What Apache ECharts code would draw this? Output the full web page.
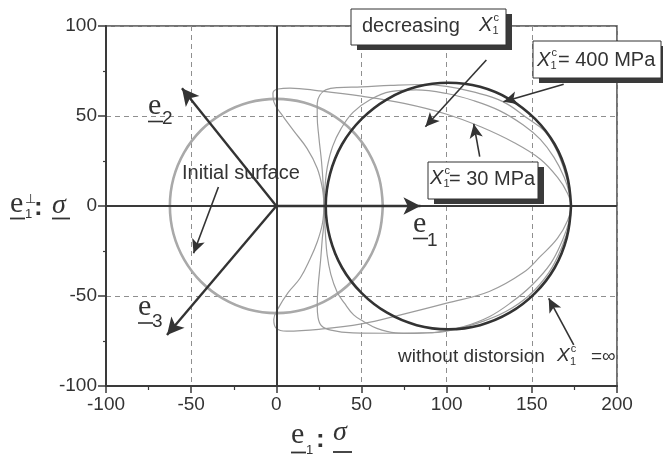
<!DOCTYPE html>
<html>
<head>
<meta charset="utf-8">
<script src="https://cdn.jsdelivr.net/npm/echarts/dist/echarts.min.js"></script>
<style>
  html, body { margin: 0; background: #fff; }
  #chart { width: 663px; height: 458px; }
</style>
</head>
<body>
<div id="chart"></div>
<script>
// axis ticks (data units)
const xTicks = [-100, -50, 0, 50, 100, 150, 200];
const yTicks = [-100, -50, 0, 50, 100];

// initial yield surface
const initialSurface = [
  [62.5, 0], [60.4, 15.4], [54.1, 29.8], [44.2, 42.1], [31.3, 51.5], [16.2, 57.5], [0, 59.5],
  [-16.2, 57.5], [-31.3, 51.5], [-44.2, 42.1], [-54.1, 29.8], [-60.4, 15.4], [-62.5, 0],
  [-60.4, -15.4], [-54.1, -29.8], [-44.2, -42.1], [-31.3, -51.5], [-16.2, -57.5], [0, -59.5],
  [16.2, -57.5], [31.3, -51.5], [44.2, -42.1], [54.1, -29.8], [60.4, -15.4], [62.5, 0]
];

// without distorsion, X1c = inf
const noDistorsion = [
  [173, 0], [170.5, 17.7], [163.4, 34.3], [151.9, 48.4], [137, 59.3], [119.6, 66.2], [101, 68.5],
  [82.4, 66.2], [65, 59.3], [50.1, 48.4], [38.6, 34.3], [31.5, 17.7], [29, 0],
  [31.5, -17.7], [38.6, -34.3], [50.1, -48.4], [65, -59.3], [82.4, -66.2], [101, -68.5],
  [119.6, -66.2], [137, -59.3], [151.9, -48.4], [163.4, -34.3], [170.5, -17.7], [173, 0]
];

// X1c = 400 MPa
const xc400 = [
  [28, 0], [27.5, 12], [26.5, 25], [25, 38], [24, 50], [24, 57], [25.5, 61.5], [29, 64.5],
  [36, 65.8], [50, 66.2], [67, 67], [85, 67.5], [100, 66.5], [115, 63.5], [133, 58], [147, 49],
  [157, 42], [164, 32], [169, 20], [172, 9], [173, 0], [172, -10], [168, -22], [160, -37],
  [148, -50], [135, -58.5], [120, -64.5], [100, -69.5], [85, -70.5], [67, -70.7], [45, -70.5],
  [32, -69], [26.5, -66.5], [24.5, -62], [24, -55], [24.5, -45], [26, -30], [27, -18], [28, -8], [28, 0]
];

// intermediate X1c
const xcMid = [
  [28, 0], [28.5, 10], [30, 22], [33, 33], [38, 43], [45, 52], [55, 59], [67, 63.5], [82, 64.5],
  [100, 62.5], [116, 58.5], [131, 53], [145, 45], [155, 37], [163, 27], [169, 16], [172, 7],
  [173, 0], [172, -8], [168, -19], [161, -32], [150, -44], [138, -53.5], [125, -61.5], [110, -67],
  [95, -70], [80, -70.8], [70, -70.5], [59, -68], [51, -64], [45.4, -60.5], [40, -54],
  [35.6, -47.6], [32, -38], [29.8, -27], [28.8, -15], [28.3, -6], [28, 0]
];

// X1c = 30 MPa
const xc30 = [
  [28, 0], [27, 10], [24, 21], [18, 32], [10, 42], [3, 51], [-1.5, 58], [-2, 62.5], [1, 65],
  [8, 65.5], [25, 64], [50, 61], [75, 57], [100, 51], [120, 44], [140, 35], [155, 26], [165, 16],
  [171, 7], [173, 0], [171, -8], [165, -18], [155, -28], [145, -37], [125, -47.5], [100, -54],
  [73, -60.5], [50, -65.5], [25, -68.5], [6, -69.5], [0, -68], [-1.5, -63], [1, -57], [7, -48],
  [14, -40], [20, -29], [24, -20], [27, -10], [28, 0]
];

// basis vectors e1, e2, e3 (from origin)
const vectorTips = [[84.6, 0], [-55.4, 65.4], [-64.2, -71.7]];

// annotation arrows [from, to]
const noteArrows = [
  [[-34, 10.6], [-48.6, -26.3]],
  [[123.3, 81.1], [87.5, 44]],
  [[168.7, 67.6], [133.3, 57.9]],
  [[119.4, 27.4], [115.9, 45.6]],
  [[174.6, -77.2], [159.9, -51.3]]
];

const INK = '#333';
const SANS = 'Liberation Sans, Arial, sans-serif';
const SERIF = 'Liberation Serif, Times New Roman, serif';

let uid = 0;
function txt(x, y, text, size, extra) {
  return {
    id: 'g' + (uid++), type: 'text', x: x, y: y, z: 100, z2: 30,
    style: Object.assign({
      text: text, fontSize: size, fontFamily: SANS, fill: INK,
      align: 'left', verticalAlign: 'middle'
    }, extra || {})
  };
}
function hline(x1, x2, y, w) {
  return {
    id: 'g' + (uid++), type: 'line', z: 100, z2: 30,
    shape: { x1: x1, y1: y, x2: x2, y2: y },
    style: { stroke: INK, lineWidth: w || 1.6 }
  };
}
// note boxes (pixel layout): the white box is a graphic rect, its drop shadow a pixel markArea
const boxes = [[351, 9, 155, 36], [533, 41, 128, 37], [428, 162, 110, 37]];
function box(b) {
  return [{
    id: 'g' + (uid++), type: 'rect', z: 100, z2: 20,
    shape: { x: b[0], y: b[1], width: b[2], height: b[3] },
    style: { fill: '#fff', stroke: INK, lineWidth: 1 }
  }];
}
const shadowAreas = [];
boxes.forEach(function (b) {
  shadowAreas.push([{ x: b[0] + b[2], y: b[1] + 5 }, { x: b[0] + b[2] + 6, y: b[1] + b[3] + 5 }]);
  shadowAreas.push([{ x: b[0] + 6, y: b[1] + b[3] }, { x: b[0] + b[2] + 6, y: b[1] + b[3] + 5 }]);
});
// italic X with subscript 1 and superscript c
function xc(x, y, size) {
  return [
    txt(x, y, 'X', size, { fontStyle: 'italic' }),
    txt(x + size * 0.68, y + 6, '1', 11),
    txt(x + size * 0.72, y - 7, 'c', 11)
  ];
}

const deco = [].concat(
  // vector labels
  [txt(148, 106, 'e', 30, { fontFamily: SERIF }), hline(148, 163, 121.5), txt(162, 119, '2', 19)],
  [txt(138, 307, 'e', 30, { fontFamily: SERIF }), hline(138, 153, 323), txt(152, 322, '3', 19)],
  [txt(413, 224, 'e', 30, { fontFamily: SERIF }), hline(413, 428, 238.5), txt(427, 241, '1', 19)],
  // y axis title
  [txt(10, 204, 'e', 30, { fontFamily: SERIF }), hline(10, 25, 218.5, 1.8), txt(25, 214, '1', 13),
   txt(25, 199, '⊥', 13), txt(34, 208, ':', 26, { fontWeight: 'bold' }),
   txt(52, 206, 'σ', 28, { fontFamily: SERIF, fontStyle: 'italic' }), hline(52, 70, 218.5, 1.8)],
  // x axis title
  [txt(291, 435, 'e', 30, { fontFamily: SERIF }), hline(291, 306, 452.5, 1.8), txt(306, 450, '1', 13),
   txt(316, 440, ':', 26, { fontWeight: 'bold' }),
   txt(333, 433, 'σ', 28, { fontFamily: SERIF, fontStyle: 'italic' }), hline(333, 352, 452, 1.8)],
  // notes
  [txt(182, 173, 'Initial surface', 20)],
  box(boxes[0]), [txt(362, 26, 'decreasing', 20)], xc(479, 25, 20),
  box(boxes[1]), xc(537, 60, 20), [txt(558, 60, '= 400 MPa', 20)],
  box(boxes[2]), xc(430, 178, 20), [txt(449, 179, '= 30 MPa', 20)],
  [txt(398, 357, 'without distorsion', 19)], xc(557, 356, 19), [txt(591, 357, '=∞', 19)]
);

const arrowLines = []
  .concat(vectorTips.map(function (t) {
    return [
      { coord: [0, 0], symbol: 'none' },
      { coord: t, symbol: 'arrow', symbolSize: [13, 17], lineStyle: { width: 2.4 } }
    ];
  }))
  .concat(noteArrows.map(function (a) {
    return [
      { coord: a[0], symbol: 'none' },
      { coord: a[1], symbol: 'arrow', symbolSize: [10, 14], lineStyle: { width: 1.6 } }
    ];
  }));

function curve(name, data, color, width, z) {
  return {
    name: name, type: 'line', data: data, smooth: 0.4, showSymbol: false, symbol: 'none',
    lineStyle: { color: color, width: width }, z: z, silent: true, animation: false
  };
}

const chart = echarts.init(document.getElementById('chart'));
chart.setOption({
  animation: false,
  grid: { left: 106, right: 46, top: 26, bottom: 72, show: true, borderColor: '#444', borderWidth: 1.5 },
  xAxis: {
    type: 'value', min: xTicks[0], max: xTicks[xTicks.length - 1], interval: xTicks[1] - xTicks[0],
    axisLine: { onZero: false, lineStyle: { color: '#3a3a3a', width: 2 } },
    axisTick: { show: true, length: 7, lineStyle: { color: '#3a3a3a', width: 1.5 } },
    minorTick: { show: true, splitNumber: 2, length: 4, lineStyle: { color: '#3a3a3a', width: 1.2 } },
    axisLabel: { fontSize: 19, color: INK, fontFamily: SANS, margin: 9 },
    splitLine: { show: true, lineStyle: { color: '#8f8f8f', type: [5, 4], width: 1 } }
  },
  yAxis: {
    type: 'value', min: yTicks[0], max: yTicks[yTicks.length - 1], interval: yTicks[1] - yTicks[0],
    axisLine: { onZero: false, lineStyle: { color: '#3a3a3a', width: 2 } },
    axisTick: { show: true, length: 8, lineStyle: { color: '#3a3a3a', width: 1.5 } },
    minorTick: { show: true, splitNumber: 2, length: 3, lineStyle: { color: '#3a3a3a', width: 1.2 } },
    axisLabel: { fontSize: 19, color: INK, fontFamily: SANS, margin: 9 },
    splitLine: { show: true, lineStyle: { color: '#8f8f8f', type: [5, 4], width: 1 } }
  },
  series: [
    Object.assign(curve('initial', initialSurface, '#a9a9a9', 2.6, 3), {
      markLine: {
        silent: true, symbol: 'none', label: { show: false },
        lineStyle: { color: '#3a3a3a', type: 'solid', width: 2 },
        data: [{ xAxis: 0 }, { yAxis: 0 }]
      }
    }),
    curve('X1c=30', xc30, '#9c9c9c', 1.2, 4),
    curve('mid', xcMid, '#9c9c9c', 1.2, 4),
    curve('X1c=400', xc400, '#9c9c9c', 1.2, 4),
    curve('no distorsion', noDistorsion, '#333', 2.6, 5),
    {
      name: 'arrows', type: 'line', data: [], z: 6, clip: false,
      markLine: {
        silent: true, label: { show: false },
        lineStyle: { color: INK, type: 'solid' },
        itemStyle: { color: INK },
        data: arrowLines
      },
      markArea: {
        silent: true, label: { show: false },
        itemStyle: { color: '#3a3a3a', opacity: 1 },
        data: shadowAreas
      }
    }
  ],
  graphic: deco
});
</script>
</body>
</html>
